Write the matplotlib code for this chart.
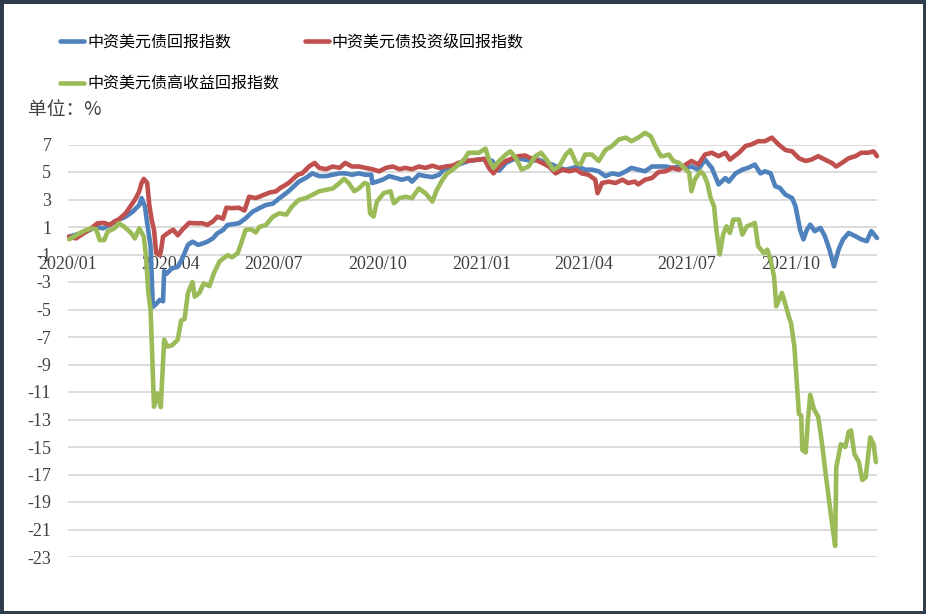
import matplotlib
matplotlib.use("Agg")
import matplotlib.pyplot as plt
import matplotlib.patches as mpatches
import pandas as pd

plt.rcParams['font.family'] = ['Noto Sans CJK SC', 'DejaVu Sans']

# 中资美元债回报指数 (蓝)
blue_dates = [
    '2020-01-02', '2020-01-17', '2020-01-26', '2020-02-01', '2020-02-07', '2020-02-14', '2020-02-21',
    '2020-02-27', '2020-03-04', '2020-03-06', '2020-03-09', '2020-03-11', '2020-03-14', '2020-03-16',
    '2020-03-19', '2020-03-22', '2020-03-25', '2020-03-26', '2020-03-28', '2020-04-02', '2020-04-07',
    '2020-04-11', '2020-04-16', '2020-04-20', '2020-04-25', '2020-04-29', '2020-05-03', '2020-05-08',
    '2020-05-12', '2020-05-17', '2020-05-21', '2020-05-25', '2020-05-31', '2020-06-06', '2020-06-12',
    '2020-06-18', '2020-06-24', '2020-06-30', '2020-07-06', '2020-07-14', '2020-07-23', '2020-07-29',
    '2020-08-04', '2020-08-10', '2020-08-16', '2020-08-22', '2020-08-28', '2020-09-02', '2020-09-08',
    '2020-09-14', '2020-09-20', '2020-09-25', '2020-09-26', '2020-09-30', '2020-10-05', '2020-10-11',
    '2020-10-17', '2020-10-22', '2020-10-28', '2020-10-31', '2020-11-06', '2020-11-12', '2020-11-18',
    '2020-11-24', '2020-11-28', '2020-12-04', '2020-12-11', '2020-12-20', '2020-12-29', '2021-01-04',
    '2021-01-10', '2021-01-16', '2021-01-22', '2021-01-28', '2021-02-02', '2021-02-08', '2021-02-14',
    '2021-02-20', '2021-02-26', '2021-03-04', '2021-03-10', '2021-03-16', '2021-03-22', '2021-03-27',
    '2021-04-02', '2021-04-08', '2021-04-14', '2021-04-20', '2021-04-26', '2021-05-02', '2021-05-08',
    '2021-05-13', '2021-05-19', '2021-05-25', '2021-05-31', '2021-06-06', '2021-06-12', '2021-06-18',
    '2021-06-24', '2021-06-30', '2021-07-05', '2021-07-11', '2021-07-17', '2021-07-23', '2021-07-29',
    '2021-08-04', '2021-08-07', '2021-08-13', '2021-08-19', '2021-08-24', '2021-08-30', '2021-09-04',
    '2021-09-08', '2021-09-13', '2021-09-17', '2021-09-21', '2021-09-26', '2021-10-02', '2021-10-05',
    '2021-10-09', '2021-10-12', '2021-10-15', '2021-10-18', '2021-10-22', '2021-10-27', '2021-10-31',
    '2021-11-04', '2021-11-08', '2021-11-12', '2021-11-16', '2021-11-21', '2021-11-27', '2021-12-02',
    '2021-12-07', '2021-12-11', '2021-12-16']
blue_vals = [
    0.3, 0.66, 1.0, 0.9, 1.15, 1.5, 1.75,
    2.1, 2.6, 3.1, 2.5, 1.27, -0.4, -4.8,
    -4.6, -4.3, -4.4, -2.2, -2.4, -2.0, -1.9,
    -1.3, -0.3, -0.07, -0.3, -0.2, -0.07, 0.17,
    0.54, 0.78, 1.15, 1.2, 1.27, 1.63, 2.1,
    2.37, 2.6, 2.7, 3.1, 3.6, 4.3, 4.56,
    4.9, 4.7, 4.7, 4.8, 4.9, 4.9, 4.8,
    4.9, 4.8, 4.8, 4.2, 4.3, 4.44, 4.7,
    4.56, 4.44, 4.56, 4.3, 4.8, 4.7, 4.63,
    4.8, 5.17, 5.3, 5.54, 5.8, 5.9, 5.95,
    5.8, 5.1, 5.66, 5.9, 6.0, 5.9, 5.8,
    5.9, 5.66, 5.54, 5.3, 5.17, 5.3, 5.4,
    5.17, 5.17, 5.05, 4.7, 4.9, 4.8, 5.05,
    5.3, 5.17, 5.05, 5.4, 5.4, 5.4, 5.3,
    5.4, 5.3, 5.4, 5.17, 5.9, 5.3, 4.1,
    4.56, 4.3, 4.9, 5.17, 5.3, 5.54, 4.9,
    5.05, 4.9, 3.97, 3.85, 3.36, 3.1, 2.5,
    0.8, 0.1, 0.8, 1.17, 0.7, 0.93, 0.33,
    -0.65, -1.86, -0.65, 0.1, 0.57, 0.33, 0.1,
    -0.03, 0.7, 0.2]

# 中资美元债投资级回报指数 (红)
red_dates = [
    '2020-01-02', '2020-01-08', '2020-01-17', '2020-01-23', '2020-01-27', '2020-02-02', '2020-02-07',
    '2020-02-11', '2020-02-15', '2020-02-21', '2020-02-26', '2020-03-01', '2020-03-04', '2020-03-06',
    '2020-03-08', '2020-03-11', '2020-03-13', '2020-03-15', '2020-03-17', '2020-03-19', '2020-03-22',
    '2020-03-23', '2020-03-25', '2020-03-31', '2020-04-03', '2020-04-07', '2020-04-11', '2020-04-17',
    '2020-04-23', '2020-04-29', '2020-05-03', '2020-05-08', '2020-05-12', '2020-05-17', '2020-05-20',
    '2020-05-25', '2020-05-31', '2020-06-05', '2020-06-09', '2020-06-15', '2020-06-21', '2020-06-27',
    '2020-07-03', '2020-07-06', '2020-07-14', '2020-07-22', '2020-07-26', '2020-08-01', '2020-08-06',
    '2020-08-10', '2020-08-16', '2020-08-22', '2020-08-28', '2020-09-02', '2020-09-08', '2020-09-14',
    '2020-09-20', '2020-09-26', '2020-10-02', '2020-10-08', '2020-10-14', '2020-10-20', '2020-10-25',
    '2020-10-31', '2020-11-06', '2020-11-12', '2020-11-18', '2020-11-24', '2020-11-30', '2020-12-06',
    '2020-12-11', '2020-12-17', '2020-12-23', '2020-12-29', '2021-01-03', '2021-01-07', '2021-01-11',
    '2021-01-16', '2021-01-22', '2021-01-28', '2021-02-02', '2021-02-08', '2021-02-13', '2021-02-17',
    '2021-02-23', '2021-03-01', '2021-03-07', '2021-03-13', '2021-03-19', '2021-03-25', '2021-03-30',
    '2021-04-05', '2021-04-11', '2021-04-13', '2021-04-17', '2021-04-23', '2021-04-29', '2021-05-05',
    '2021-05-10', '2021-05-16', '2021-05-19', '2021-05-25', '2021-05-31', '2021-06-06', '2021-06-12',
    '2021-06-18', '2021-06-24', '2021-06-30', '2021-07-05', '2021-07-11', '2021-07-17', '2021-07-23',
    '2021-07-29', '2021-08-04', '2021-08-08', '2021-08-16', '2021-08-22', '2021-08-27', '2021-09-02',
    '2021-09-08', '2021-09-14', '2021-09-20', '2021-09-26', '2021-10-02', '2021-10-08', '2021-10-14',
    '2021-10-19', '2021-10-25', '2021-10-31', '2021-11-06', '2021-11-10', '2021-11-15', '2021-11-21',
    '2021-11-27', '2021-12-02', '2021-12-08', '2021-12-13', '2021-12-16']
red_vals = [
    0.3, 0.17, 0.66, 1.0, 1.27, 1.3, 1.15,
    1.4, 1.56, 2.0, 2.6, 3.1, 3.6, 4.2,
    4.5, 4.2, 2.5, 1.5, 0.8, -0.9, -1.05,
    -0.8, 0.3, 0.66, 0.8, 0.4, 0.8, 1.3,
    1.27, 1.27, 1.15, 1.4, 1.75, 1.6, 2.4,
    2.37, 2.4, 2.2, 3.2, 3.1, 3.3, 3.5,
    3.6, 3.8, 4.2, 4.8, 4.9, 5.4, 5.66,
    5.3, 5.2, 5.4, 5.3, 5.66, 5.4, 5.4,
    5.3, 5.2, 5.05, 5.3, 5.4, 5.2, 5.3,
    5.2, 5.4, 5.3, 5.46, 5.3, 5.4, 5.46,
    5.66, 5.8, 5.85, 5.9, 5.95, 5.3, 4.9,
    5.4, 5.8, 6.0, 6.15, 6.2, 6.0, 5.9,
    5.66, 5.4, 4.9, 5.17, 5.05, 5.17, 4.9,
    4.8, 4.44, 3.46, 4.2, 4.3, 4.2, 4.44,
    4.2, 4.3, 4.1, 4.44, 4.56, 5.0, 5.05,
    5.3, 5.17, 5.54, 5.8, 5.54, 6.27, 6.4,
    6.15, 6.4, 5.9, 6.4, 6.9, 7.0, 7.24,
    7.24, 7.5, 7.0, 6.6, 6.5, 6.0, 5.8,
    5.9, 6.15, 5.9, 5.66, 5.4, 5.66, 6.0,
    6.15, 6.4, 6.4, 6.5, 6.15]

# 中资美元债高收益回报指数 (绿)
green_dates = [
    '2020-01-02', '2020-01-11', '2020-01-17', '2020-01-21', '2020-01-26', '2020-01-29', '2020-02-02',
    '2020-02-05', '2020-02-11', '2020-02-15', '2020-02-20', '2020-02-26', '2020-02-29', '2020-03-04',
    '2020-03-08', '2020-03-10', '2020-03-12', '2020-03-14', '2020-03-17', '2020-03-20', '2020-03-23',
    '2020-03-26', '2020-03-29', '2020-04-02', '2020-04-07', '2020-04-10', '2020-04-13', '2020-04-16',
    '2020-04-20', '2020-04-22', '2020-04-26', '2020-04-30', '2020-05-05', '2020-05-09', '2020-05-14',
    '2020-05-17', '2020-05-21', '2020-05-25', '2020-05-30', '2020-06-02', '2020-06-06', '2020-06-11',
    '2020-06-15', '2020-06-18', '2020-06-24', '2020-06-30', '2020-07-06', '2020-07-12', '2020-07-17',
    '2020-07-23', '2020-07-29', '2020-08-04', '2020-08-10', '2020-08-16', '2020-08-22', '2020-08-28',
    '2020-09-01', '2020-09-05', '2020-09-10', '2020-09-14', '2020-09-19', '2020-09-22', '2020-09-24',
    '2020-09-27', '2020-09-30', '2020-10-06', '2020-10-12', '2020-10-15', '2020-10-20', '2020-10-25',
    '2020-10-31', '2020-11-06', '2020-11-12', '2020-11-18', '2020-11-22', '2020-11-27', '2020-12-01',
    '2020-12-06', '2020-12-11', '2020-12-16', '2020-12-20', '2020-12-29', '2021-01-04', '2021-01-07',
    '2021-01-11', '2021-01-16', '2021-01-22', '2021-01-26', '2021-01-31', '2021-02-05', '2021-02-11',
    '2021-02-17', '2021-02-22', '2021-02-27', '2021-03-05', '2021-03-10', '2021-03-16', '2021-03-20',
    '2021-03-25', '2021-03-29', '2021-04-02', '2021-04-08', '2021-04-14', '2021-04-20', '2021-04-26',
    '2021-05-02', '2021-05-08', '2021-05-13', '2021-05-19', '2021-05-25', '2021-05-30', '2021-06-03',
    '2021-06-08', '2021-06-10', '2021-06-15', '2021-06-19', '2021-06-24', '2021-07-03', '2021-07-05',
    '2021-07-08', '2021-07-13', '2021-07-16', '2021-07-19', '2021-07-22', '2021-07-25', '2021-07-27',
    '2021-07-30', '2021-08-02', '2021-08-05', '2021-08-08', '2021-08-11', '2021-08-16', '2021-08-19',
    '2021-08-23', '2021-08-27', '2021-08-30', '2021-09-02', '2021-09-07', '2021-09-10', '2021-09-13',
    '2021-09-16', '2021-09-18', '2021-09-23', '2021-09-26', '2021-09-29', '2021-10-01', '2021-10-04',
    '2021-10-06', '2021-10-08', '2021-10-10', '2021-10-11', '2021-10-14', '2021-10-16', '2021-10-18',
    '2021-10-21', '2021-10-25', '2021-10-28', '2021-11-01', '2021-11-04', '2021-11-06', '2021-11-09',
    '2021-11-10', '2021-11-14', '2021-11-18', '2021-11-21', '2021-11-23', '2021-11-26', '2021-11-30',
    '2021-12-03', '2021-12-06', '2021-12-10', '2021-12-13', '2021-12-15']
green_vals = [
    0.1, 0.54, 0.78, 0.9, 0.83, 0.05, 0.05,
    0.66, 0.9, 1.27, 1.0, 0.54, 0.17, 0.9,
    0.3, -1.2, -3.8, -5.0, -12.07, -11.1, -12.1,
    -7.2, -7.7, -7.6, -7.2, -5.8, -5.7, -3.8,
    -3.0, -4.07, -3.8, -3.1, -3.3, -2.35, -1.5,
    -1.3, -1.05, -1.2, -0.9, -0.2, 0.8, 0.83,
    0.6, 1.0, 1.15, 1.75, 2.0, 1.9, 2.5,
    2.97, 3.1, 3.34, 3.6, 3.7, 3.8, 4.2,
    4.5, 4.2, 3.6, 3.8, 4.2, 4.1, 2.0,
    1.76, 2.85, 3.46, 3.6, 2.73, 3.1, 3.2,
    3.1, 3.8, 3.46, 2.85, 3.7, 4.44, 4.9,
    5.17, 5.54, 5.9, 6.4, 6.4, 6.7, 5.9,
    5.3, 5.8, 6.27, 6.5, 6.0, 5.17, 5.4,
    6.15, 6.4, 5.9, 5.17, 5.4, 6.27, 6.6,
    5.66, 5.54, 6.27, 6.27, 5.8, 6.6, 6.9,
    7.37, 7.5, 7.24, 7.5, 7.85, 7.6, 6.9,
    6.15, 6.15, 6.27, 5.8, 5.66, 4.94, 3.6,
    4.45, 5.06, 4.8, 4.2, 3.1, 2.5, 0.8,
    -1.0, 0.45, 1.05, 0.57, 1.54, 1.54, 0.45,
    1.05, 1.17, 1.3, -0.4, -0.9, -0.65, -1.4,
    -2.6, -4.76, -3.8, -4.6, -5.5, -6.0, -7.7,
    -10.1, -12.6, -12.7, -15.2, -15.4, -13.0, -11.2,
    -12.2, -12.8, -14.5, -17.2, -19.1, -20.4, -22.2,
    -16.5, -14.8, -15.0, -13.9, -13.8, -15.5, -16.1,
    -17.4, -17.2, -14.3, -14.8, -16.1]

series_names = ['中资美元债回报指数', '中资美元债投资级回报指数', '中资美元债高收益回报指数']
series_colors = ['#4F81BD', '#C0504D', '#9BBB59']

x_tick_dates = ['2020-01-01', '2020-04-01', '2020-07-01', '2020-10-01',
                '2021-01-01', '2021-04-01', '2021-07-01', '2021-10-01']
x_tick_labels = ['2020/01', '2020/04', '2020/07', '2020/10',
                 '2021/01', '2021/04', '2021/07', '2021/10']
y_ticks = list(range(-23, 8, 2))

fig = plt.figure(figsize=(9.26, 6.14), dpi=100)
fig.patch.set_facecolor('white')
ax = fig.add_axes([68 / 926, 1 - 557 / 614, 809 / 926, 412.5 / 614])

handles = []
for d, v, name, c in zip([blue_dates, red_dates, green_dates],
                         [blue_vals, red_vals, green_vals],
                         series_names, series_colors):
    h, = ax.plot(pd.to_datetime(d), v, color=c, lw=3.3, label=name, clip_on=False,
                 solid_joinstyle='round', solid_capstyle='round')
    handles.append(h)

ax.set_ylim(-23, 7)
ax.set_xlim(pd.Timestamp('2020-01-01'), pd.Timestamp('2021-12-16'))
ax.set_yticks(y_ticks, [str(t) for t in y_ticks])
ax.set_xticks(pd.to_datetime(x_tick_dates), x_tick_labels)
ax.grid(axis='y', color='#d9d9d9', lw=1.3)
ax.grid(axis='x', visible=False)
ax.set_axisbelow(True)
for s in ['top', 'right', 'left']:
    ax.spines[s].set_visible(False)
ax.spines['bottom'].set_position(('data', -1))
ax.spines['bottom'].set_color('none')
ax.tick_params(axis='both', length=0, labelsize=13, labelcolor='#404040')
ax.tick_params(axis='y', pad=12)
ax.tick_params(axis='x', pad=1)
for lbl in ax.get_xticklabels() + ax.get_yticklabels():
    lbl.set_fontfamily(['Liberation Serif', 'DejaVu Serif'])

fig.text(28 / 926, 1 - 109 / 614, '单位：%', fontsize=13.5, ha='left', va='center', color='#404040')

# legend: blue, red on first row, green on second
fig.legend(handles=[handles[0], handles[2], handles[1]],
           labels=[series_names[0], series_names[2], series_names[1]],
           loc='upper left', bbox_to_anchor=(60 / 926, 1 - 34 / 614), ncol=2,
           frameon=False, fontsize=11.5, handlelength=1.5, handletextpad=0.2,
           columnspacing=1.6, labelspacing=1.55, borderpad=0, borderaxespad=0)

fig.patches.append(mpatches.Rectangle((0, 0), 1, 1, transform=fig.transFigure, fill=False,
                                      edgecolor='#2e3b4a', lw=5, zorder=10))

fig.savefig('out.png', dpi=100)
